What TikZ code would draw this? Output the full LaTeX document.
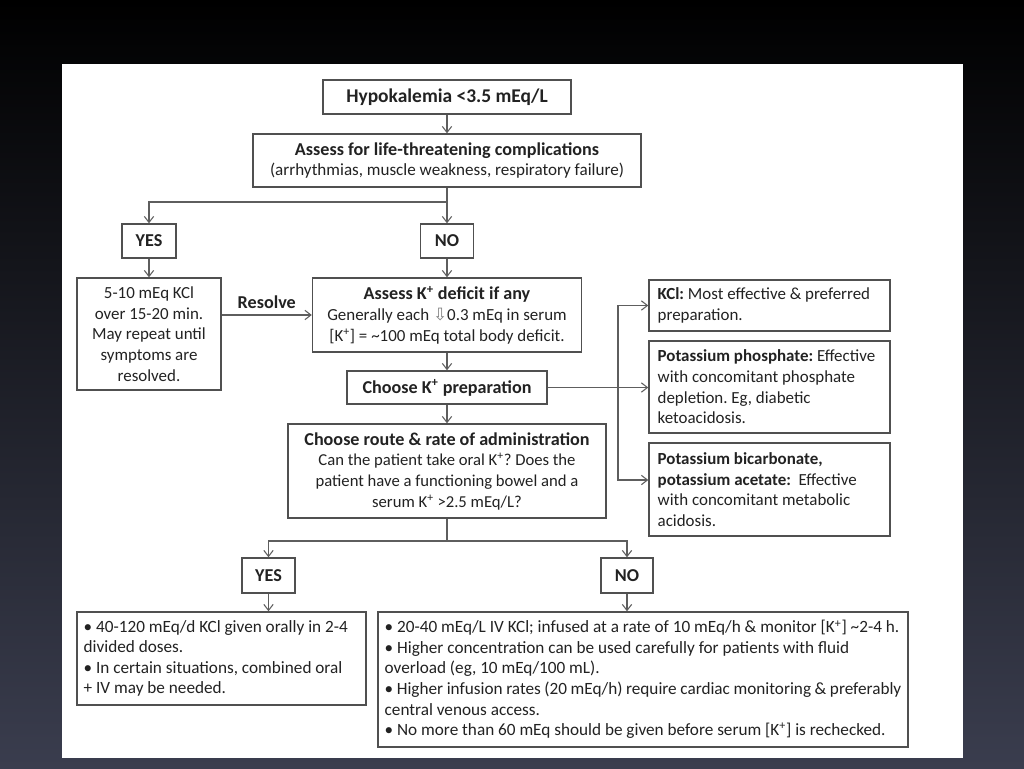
\documentclass[tikz,border=0pt]{standalone}
\usepackage{fontspec}
\setmainfont{Carlito}
\newfontfamily\arrowfont{DejaVu Sans}
\usetikzlibrary{arrows.meta,calc}
\definecolor{boxgray}{HTML}{505050}
\definecolor{linegray}{HTML}{5E5E5E}
\definecolor{txt}{HTML}{222222}
\definecolor{bgbot}{RGB}{58,61,78}
\definecolor{bgmid}{RGB}{22,23,30}
\newcommand\bodyfont{\fontsize{12.7pt}{15.5pt}\selectfont\frenchspacing}
\newcommand\routefont{\fontsize{12.5pt}{15.5pt}\selectfont\frenchspacing}
\newcommand\bigbody{\fontsize{12.9pt}{15.4pt}\selectfont\frenchspacing}
\newcommand\subfont{\fontsize{12.8pt}{15.5pt}\selectfont}
\newcommand\headfont{\fontsize{13.6pt}{15.5pt}\selectfont\bfseries}
\newcommand\Kp{K\textsuperscript{+}}
\begin{document}
\frenchspacing
\begin{tikzpicture}[x=0.75pt,y=-0.75pt,
  box/.style={draw=boxgray, line width=1.1pt, fill=white, text=txt, font=\bodyfont, align=center, inner sep=0pt},
  lbox/.style={box, align=flush left, inner xsep=5pt},
  conn/.style={draw=linegray, line width=0.9pt},
  arr/.style={conn, -{Straight Barb[length=4.5pt,width=7pt,line width=0.8pt]}},
]
\useasboundingbox (0,0) rectangle (1024,768);
\shade[top color=black, middle color=bgmid, bottom color=bgbot] (0,0) rectangle (1024,768);
\fill[white] (62,64) rectangle (963,758);

% top part
\node[box, minimum width=186pt, minimum height=25.5pt, font=\fontsize{14.6pt}{16pt}\selectfont\bfseries] (hypo) at (447,97) {Hypokalemia <3.5 mEq/L};
\node[box, minimum width=291pt, minimum height=39.75pt] (assess) at (447,160.5) {{\headfont Assess for life-threatening complications}\\{\subfont (arrhythmias, muscle weakness, respiratory failure)}};
\node[box, minimum width=40.5pt, minimum height=25.5pt, font=\headfont] (yes1) at (149,241) {YES};
\node[box, minimum width=39.75pt, minimum height=25.5pt, font=\headfont] (no1) at (447,241) {NO};
\node[box, minimum width=108pt, minimum height=84pt] (red) at (149,334) {5-10 mEq KCl\\over 15-20 min.\\May repeat until\\symptoms are\\resolved.};
\node[box, minimum width=201.75pt, minimum height=55.5pt] (assessK) at (447,315) {{\headfont Assess \Kp{} deficit if any}\\Generally each {\arrowfont\color{gray}⇩}0.3 mEq in serum\\{[}\Kp{]} = \textasciitilde100 mEq total body deficit.};
\node[box, minimum width=150pt, minimum height=24.75pt, font=\headfont] (chooseK) at (447,387.5) {Choose \Kp{} preparation};
\node[box, minimum width=238.5pt, minimum height=70.5pt, font=\routefont] (route) at (447,471) {{\headfont Choose route \& rate of administration}\\Can the patient take oral \Kp? Does the\\patient have a functioning bowel and a\\serum \Kp{} >2.5 mEq/L?};

% right column
\node[lbox, inner xsep=6.5pt, text width=167.75pt, minimum height=38.25pt] (kcl) at (769.5,305.5) {\textbf{KCl:} Most effective \& preferred\\preparation.};
\node[lbox, inner xsep=6.5pt, text width=167.75pt, minimum height=69pt] (phos) at (769.5,387) {\textbf{Potassium phosphate:} Effective\\with concomitant phosphate\\depletion. Eg, diabetic\\ketoacidosis.};
\node[lbox, inner xsep=6.5pt, text width=167.75pt, minimum height=69.75pt] (bicarb) at (769.5,489.5) {\textbf{Potassium bicarbonate,}\\\textbf{potassium acetate:}~ Effective\\with concomitant metabolic\\acidosis.};

% bottom part
\node[box, minimum width=39.75pt, minimum height=26.25pt, font=\headfont] (yes2) at (268.5,575.5) {YES};
\node[box, minimum width=39pt, minimum height=26.25pt, font=\headfont] (no2) at (627,575.5) {NO};
\node[lbox, text width=206.75pt, minimum height=69.75pt, font=\bigbody] (oral) at (221.5,658.5) {• 40-120 mEq/d KCl given orally in 2-4\\divided doses.\\• In certain situations, combined oral\\+ IV may be needed.};
\node[lbox, text width=387.5pt, minimum height=101.25pt, font=\bigbody] (iv) at (643,679.5) {• 20-40 mEq/L IV KCl; infused at a rate of 10 mEq/h \& monitor [\Kp] \textasciitilde2-4 h.\\• Higher concentration can be used carefully for patients with fluid\\overload (eg, 10 mEq/100 mL).\\• Higher infusion rates (20 mEq/h) require cardiac monitoring \& preferably\\central venous access.\\• No more than 60 mEq should be given before serum [\Kp] is rechecked.};

% connectors
\coordinate (br1) at (447,202);
\coordinate (br2) at (447,541);
\coordinate (bx) at (618,387.5);
\draw[arr] (hypo) -- (assess);
\draw[arr] (assess.south) -- (no1.north);
\draw[arr] (br1) -| (yes1.north);
\draw[arr] (yes1) -- (red);
\draw[arr] (no1) -- (assessK);
\draw[arr] (red.east |- assessK.west) -- node[above=1pt, font=\headfont, text=txt] (resolve) {Resolve} (assessK.west);
\draw[arr] (assessK) -- (chooseK);
\draw[arr] (chooseK) -- (route);
\draw[arr] (chooseK.east) -- (chooseK.east -| phos.west);
\draw[arr] (bx) |- (kcl.west);
\draw[arr] (bx) |- ($(bicarb.west)+(0,-9.5)$);
\draw[conn] (route.south) -- (br2);
\draw[arr] (br2) -| (yes2.north);
\draw[arr] (br2) -| (no2.north);
\draw[arr] (yes2.south) -- (yes2.south |- oral.north);
\draw[arr] (no2.south) -- (no2.south |- iv.north);
\end{tikzpicture}
\end{document}
